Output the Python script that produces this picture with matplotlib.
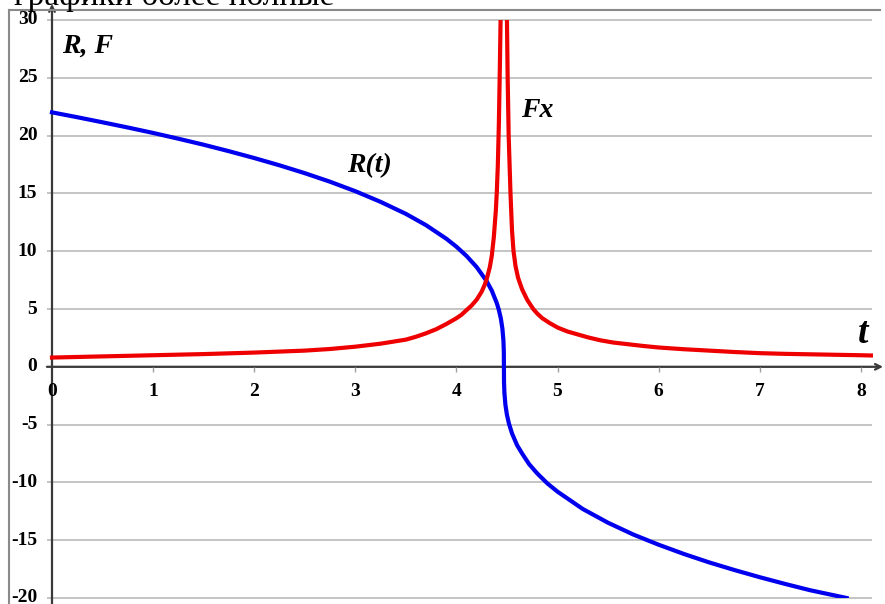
#!/usr/bin/env python3

import numpy as np
import matplotlib.pyplot as plt
from matplotlib.patches import Rectangle

#################################################
### Data
#################################################

# R(t): smooth decrease, vertical tangent where it crosses zero
r_t = [0.0, 0.25, 0.5, 0.75, 1.0, 1.25, 1.5, 1.75, 2.0, 2.25, 2.5, 2.75,
       3.0, 3.25, 3.5, 3.7, 3.9, 4.0, 4.1, 4.2, 4.3, 4.35, 4.4, 4.42,
       4.44, 4.455, 4.465, 4.469, 4.47, 4.471, 4.475, 4.485, 4.5, 4.52,
       4.55, 4.6, 4.65, 4.72, 4.8, 4.9, 5.0, 5.25, 5.5, 5.75, 6.0, 6.25,
       6.5, 6.75, 7.0, 7.25, 7.5, 7.86]
r_val = [22.01, 21.59, 21.15, 20.70, 20.23, 19.73, 19.21, 18.65, 18.06,
         17.43, 16.75, 16.01, 15.19, 14.27, 13.23, 12.25, 11.08, 10.39,
         9.59, 8.63, 7.40, 6.59, 5.50, 4.92, 4.16, 3.30, 2.28, 1.34, 0.0,
         -1.34, -2.28, -3.30, -4.16, -4.92, -5.76, -6.78, -7.50, -8.43,
         -9.23, -10.09, -10.80, -12.30, -13.49, -14.51, -15.39, -16.19,
         -16.92, -17.58, -18.20, -18.78, -19.33, -20.0]

# Fx: grows towards the singularity near t = 4.47, then falls off
f_t = [0.0, 0.5, 1.0, 1.5, 2.0, 2.5, 2.75, 3.0, 3.25, 3.5, 3.6, 3.7, 3.8,
       3.9, 4.0, 4.05, 4.1, 4.15, 4.2, 4.25, 4.28, 4.3, 4.33, 4.35, 4.37,
       4.39, 4.40, 4.41, 4.42, 4.43, 4.437, 4.467,
       4.50, 4.507, 4.517, 4.535, 4.55, 4.565, 4.585, 4.61, 4.65, 4.7,
       4.76, 4.8, 4.85, 4.92, 5.0, 5.1, 5.2, 5.3, 5.42, 5.55, 5.7, 5.85,
       6.0, 6.25, 6.5, 6.75, 7.0, 7.25, 7.5, 7.75, 8.0, 8.1]
f_val = [0.8, 0.9, 1.0, 1.1, 1.23, 1.4, 1.54, 1.74, 2.0, 2.35, 2.6, 2.9,
         3.25, 3.7, 4.2, 4.5, 4.9, 5.3, 5.8, 6.5, 7.1, 7.6, 8.6, 9.6, 11.2,
         13.5, 15.2, 17.5, 21.0, 26.0, 30.0, np.nan,
         30.0, 25.0, 20.0, 15.0, 11.8, 10.0, 8.7, 7.7, 6.7, 5.8,
         5.0, 4.6, 4.2, 3.8, 3.4, 3.05, 2.8, 2.55, 2.3, 2.1, 1.95, 1.8,
         1.67, 1.52, 1.4, 1.28, 1.18, 1.12, 1.08, 1.04, 1.0, 0.98]

x_ticks = [0, 1, 2, 3, 4, 5, 6, 7, 8]
y_ticks = [-20, -15, -10, -5, 0, 5, 10, 15, 20, 25, 30]

#################################################
### Plot
#################################################

W, H = 885, 604
X0, PX = 52, 101.1      # pixel of t=0, pixels per unit of t
Y30, PY = 20, 11.56     # pixel of value 30, pixels per unit of value

fig = plt.figure(figsize=(W / 100, H / 100), dpi=100)
ax = fig.add_axes([0, 0, 1, 1])
ax.set_xlim(-X0 / PX, (W - X0) / PX)
ax.set_ylim(30 - (H - Y30) / PY, 30 + Y30 / PY)
ax.axis('off')

tick_font = dict(family='Liberation Serif', weight='bold', size=14)
label_font = dict(family='Liberation Serif', weight='bold', style='italic')

# horizontal grid
ax.hlines(y_ticks, -0.05, 8.11, color='#c4c4c4', lw=1.4, zorder=1)

# axes with arrows
ymin, ymax = ax.get_ylim()
ax.annotate('', xy=(0, 31.4), xytext=(0, ymin),
            arrowprops=dict(arrowstyle='->', color='#3a3a3a', lw=1.6,
                            shrinkA=0, shrinkB=0), zorder=2)
ax.annotate('', xy=(8.22, 0), xytext=(-0.05, 0),
            arrowprops=dict(arrowstyle='->', color='#3a3a3a', lw=1.6,
                            shrinkA=0, shrinkB=0), zorder=2)
ax.vlines(x_ticks[1:], -0.42, 0, color='#a0a0a0', lw=1, zorder=2)

for t in x_ticks:
    ax.annotate(str(t), xy=(t, 0), xytext=(0, -17.5), textcoords='offset points',
                ha='center', va='center', **tick_font)
for v in y_ticks:
    ax.annotate(str(v), xy=(0, v), xytext=(-10.5, 0), textcoords='offset points',
                ha='right', va='center', **tick_font)

# curves, cut at the plot area
clip = Rectangle((-0.1, -20.0), 8.4, 50.0, transform=ax.transData)
line_r, = ax.plot(r_t, r_val, color='#0000ee', lw=3, zorder=3,
                  solid_joinstyle='round')
line_f, = ax.plot(f_t, f_val, color='#ee0000', lw=3, zorder=4,
                  solid_joinstyle='round')
line_r.set_clip_path(clip)
line_f.set_clip_path(clip)

# labels
ax.text((62 - X0) / PX, 30 - (53 - Y30) / PY, 'R, F', size=20, **label_font)
ax.text((521 - X0) / PX, 30 - (117 - Y30) / PY, 'Fx', size=20, **label_font)
ax.text((347 - X0) / PX, 30 - (172 - Y30) / PY, 'R(t)', size=20, **label_font)
ax.text((858 - X0) / PX, 30 - (343 - Y30) / PY, 't', size=27, **label_font)

# frame of the page
fig.add_artist(plt.Line2D([9 / W, 9 / W], [0, 1 - 10 / H], color='#8a8a8a', lw=1.5))
fig.add_artist(plt.Line2D([9 / W, 880 / W], [1 - 10 / H, 1 - 10 / H],
                          color='#8a8a8a', lw=1.5))
fig.text(14 / W, 1 - 5 / H, 'графики более полные', family='Liberation Serif',
         size=24, va='baseline', ha='left')

fig.savefig('out.png', dpi=100)
